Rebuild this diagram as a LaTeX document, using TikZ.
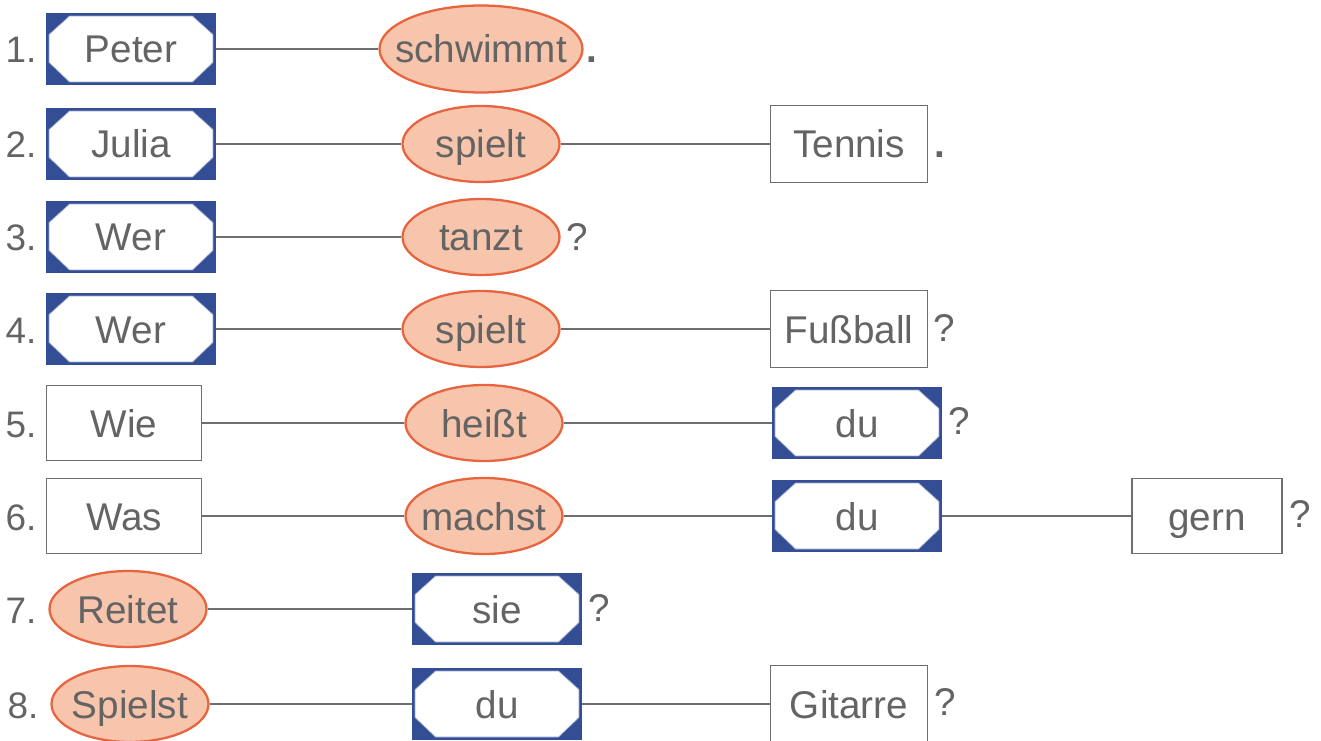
\documentclass[tikz,border=0pt]{standalone}
\usepackage{fontspec}
\setmainfont{Liberation Sans}
\usetikzlibrary{shapes.geometric}

\definecolor{subjblue}{RGB}{52,78,150}
\definecolor{verbfill}{RGB}{247,196,172}
\definecolor{verbline}{RGB}{232,100,62}
\definecolor{inkgray}{RGB}{100,100,100}
\definecolor{linegray}{RGB}{110,110,110}

\newcommand{\wordfont}{\fontsize{22}{26}\selectfont}

\tikzset{
    word/.style={text=inkgray, font=\wordfont, text height=0.66cm, text depth=0.1cm},
    subj/.style={word, rectangle, draw=subjblue, fill=subjblue, line width=0.8pt,
        minimum width=3.38cm, minimum height=1.42cm, inner sep=0pt,
        path picture={
            \fill[white, draw=subjblue!50, line width=0.4pt]
                ([shift={(0.46cm,-0.05cm)}]path picture bounding box.north west)
             -- ([shift={(-0.46cm,-0.05cm)}]path picture bounding box.north east)
             -- ([shift={(-0.05cm,-0.42cm)}]path picture bounding box.north east)
             -- ([shift={(-0.05cm,0.44cm)}]path picture bounding box.south east)
             -- ([shift={(-0.46cm,0.05cm)}]path picture bounding box.south east)
             -- ([shift={(0.46cm,0.05cm)}]path picture bounding box.south west)
             -- ([shift={(0.05cm,0.44cm)}]path picture bounding box.south west)
             -- ([shift={(0.05cm,-0.42cm)}]path picture bounding box.north west) -- cycle;
        }},
    verb/.style={word, ellipse, draw=verbline, fill=verbfill, line width=1.3pt,
        minimum width=3.14cm, minimum height=1.52cm, inner xsep=-1cm, inner ysep=-0.3cm},
    obj/.style={word, rectangle, draw=linegray, fill=white, line width=1.1pt,
        minimum width=3.14cm, minimum height=1.54cm, inner sep=0pt},
    num/.style={word, anchor=center, font=\fontsize{21}{25}\selectfont},
    punct/.style={word, anchor=west, inner sep=0pt},
    link/.style={linegray, line width=1.1pt}
}

\begin{document}
\begin{tikzpicture}[x=0.02cm, y=-0.02cm]
    \useasboundingbox (0,0) rectangle (1321,740);

    % 1.
    \node[num] (n1) at (21,49) {1.};
    \node[subj] (s1) at (131,49) {Peter};
    \node[verb, minimum width=4.06cm, minimum height=1.74cm] (v1) at (481,49) {schwimmt};
    \node[punct, font=\wordfont\bfseries] (p1) at (586,49) {.};
    \draw[link] (s1) -- (v1);

    % 2.
    \node[num] (n2) at (21,144) {2.};
    \node[subj] (s2) at (131,144) {Julia};
    \node[verb] (v2) at (481,144) {spielt};
    \node[obj] (o2) at (849,144) {Tennis};
    \node[punct, font=\wordfont\bfseries] (p2) at (934,144) {.};
    \draw[link] (s2) -- (v2);
    \draw[link] (v2) -- (o2);

    % 3.
    \node[num] (n3) at (21,237) {3.};
    \node[subj] (s3) at (131,237) {Wer};
    \node[verb] (v3) at (481,237) {tanzt};
    \node[punct] (p3) at (566,237) {?};
    \draw[link] (s3) -- (v3);

    % 4.
    \node[num] (n4) at (21,329) {4.};
    \node[subj] (s4) at (131,329) {Wer};
    \node[verb] (v4) at (481,329) {spielt};
    \node[obj] (o4) at (849,329) {Fußball};
    \node[punct] (p4) at (933,327) {?};
    \draw[link] (s4) -- (v4);
    \draw[link] (v4) -- (o4);

    % 5.
    \node[num] (n5) at (21,423) {5.};
    \node[obj, minimum width=3.1cm, minimum height=1.5cm] (s5) at (124,423) {Wie};
    \node[verb] (v5) at (484,423) {heißt};
    \node[subj] (o5) at (857,423) {du};
    \node[punct] (p5) at (948,420) {?};
    \draw[link] (s5) -- (v5);
    \draw[link] (v5) -- (o5);

    % 6.
    \node[num] (n6) at (21,516) {6.};
    \node[obj, minimum width=3.1cm, minimum height=1.5cm] (s6) at (124,516) {Was};
    \node[verb] (v6) at (484,516) {machst};
    \node[subj] (o6) at (857,516) {du};
    \node[obj, minimum width=3cm, minimum height=1.5cm] (e6) at (1207,516) {gern};
    \node[punct] (p6) at (1289,513) {?};
    \draw[link] (s6) -- (v6);
    \draw[link] (v6) -- (o6);
    \draw[link] (o6) -- (e6);

    % 7.
    \node[num] (n7) at (21,609) {7.};
    \node[verb] (v7) at (128,609) {Reitet};
    \node[subj] (s7) at (497,609) {sie};
    \node[punct] (p7) at (588,607) {?};
    \draw[link] (v7) -- (s7);

    % 8.
    \node[num] (n8) at (23,704) {8.};
    \node[verb] (v8) at (130,704) {Spielst};
    \node[subj] (s8) at (497,704) {du};
    \node[obj] (o8) at (849,704) {Gitarre};
    \node[punct] (p8) at (934,701) {?};
    \draw[link] (v8) -- (s8);
    \draw[link] (s8) -- (o8);
\end{tikzpicture}
\end{document}
